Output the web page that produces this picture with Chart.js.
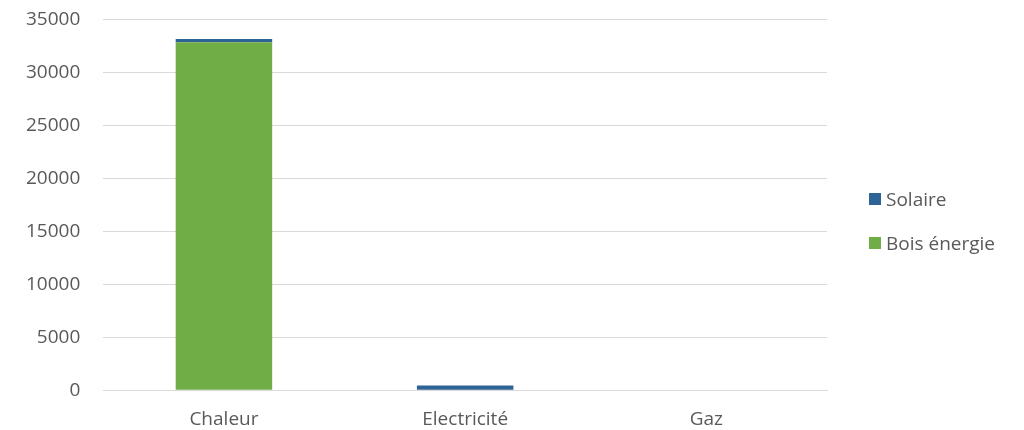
<!DOCTYPE html>
<html>
<head>
<meta charset="utf-8">
<script src="https://cdn.jsdelivr.net/npm/chart.js@4/dist/chart.umd.min.js"></script>
<style>
  html, body { margin: 0; padding: 0; background: #fff; overflow: hidden; }
  #wrap { position: relative; width: 1024px; height: 430px; overflow: hidden; }
  #myChart { position: absolute; left: 0; top: -15px; }
  #legend { position: absolute; left: 869px; top: 0; font-family: 'Open Sans', sans-serif; font-size: 19px; color: #595959; }
  #legend .item { position: absolute; left: 0; white-space: nowrap; display: flex; align-items: center; height: 24px; }
  #legend .box { width: 12px; height: 12px; margin-right: 5px; }
</style>
</head>
<body>
<div id="wrap">
  <canvas id="myChart" width="1024" height="458"></canvas>
  <div id="legend"></div>
</div>
<script>
// catégories et séries
const categories = ["Chaleur", "Electricité", "Gaz"]
const boisEnergie = [32850, 0, 0]
const solaire = [300, 450, 0]
const yTicks = [0, 5000, 10000, 15000, 20000, 25000, 30000, 35000]

const textColor = "#595959"
const gridColor = "#d9d9d9"
const fontFamily = "'Open Sans', sans-serif"

const chart = new Chart("myChart", {
    type: "bar",
    data: {
        labels: categories,
        datasets: [{
            label: "Bois énergie",
            data: boisEnergie,
            backgroundColor: "#70ad47",
            barPercentage: 0.8,
            categoryPercentage: 0.5
        }, {
            label: "Solaire",
            data: solaire,
            backgroundColor: "#2e6395",
            barPercentage: 0.8,
            categoryPercentage: 0.5
        }]
    },
    options: {
        responsive: false,
        animation: false,
        layout: {
            padding: { left: 3, right: 197, top: -4, bottom: -6 }
        },
        plugins: {
            legend: { display: false },
            tooltip: { enabled: false }
        },
        scales: {
            x: {
                stacked: true,
                grid: { display: false, drawTicks: false },
                border: { color: gridColor },
                ticks: {
                    color: textColor,
                    padding: 18,
                    font: { family: fontFamily, size: 19 }
                }
            },
            y: {
                stacked: true,
                min: yTicks[0],
                max: yTicks[yTicks.length - 1],
                grid: { color: gridColor, drawTicks: false },
                border: { display: false },
                afterBuildTicks: (axis) => {
                    axis.ticks = yTicks.map(v => ({ value: v }))
                },
                ticks: {
                    color: textColor,
                    padding: 23,
                    font: { family: fontFamily, size: 19 },
                    callback: (value) => String(value)
                }
            }
        }
    }
});

// légende (ordre inversé, Solaire en haut)
const legendEl = document.querySelector("#legend")
const legendTops = [187, 231]
chart.data.datasets.slice().reverse().forEach((ds, i) => {
    const item = document.createElement("div")
    item.classList.add("item")
    item.style.top = legendTops[i] + "px"
    const box = document.createElement("span")
    box.classList.add("box")
    box.style.background = ds.backgroundColor
    const text = document.createElement("span")
    text.innerText = ds.label
    item.append(box, text)
    legendEl.append(item)
})
</script>
</body>
</html>
